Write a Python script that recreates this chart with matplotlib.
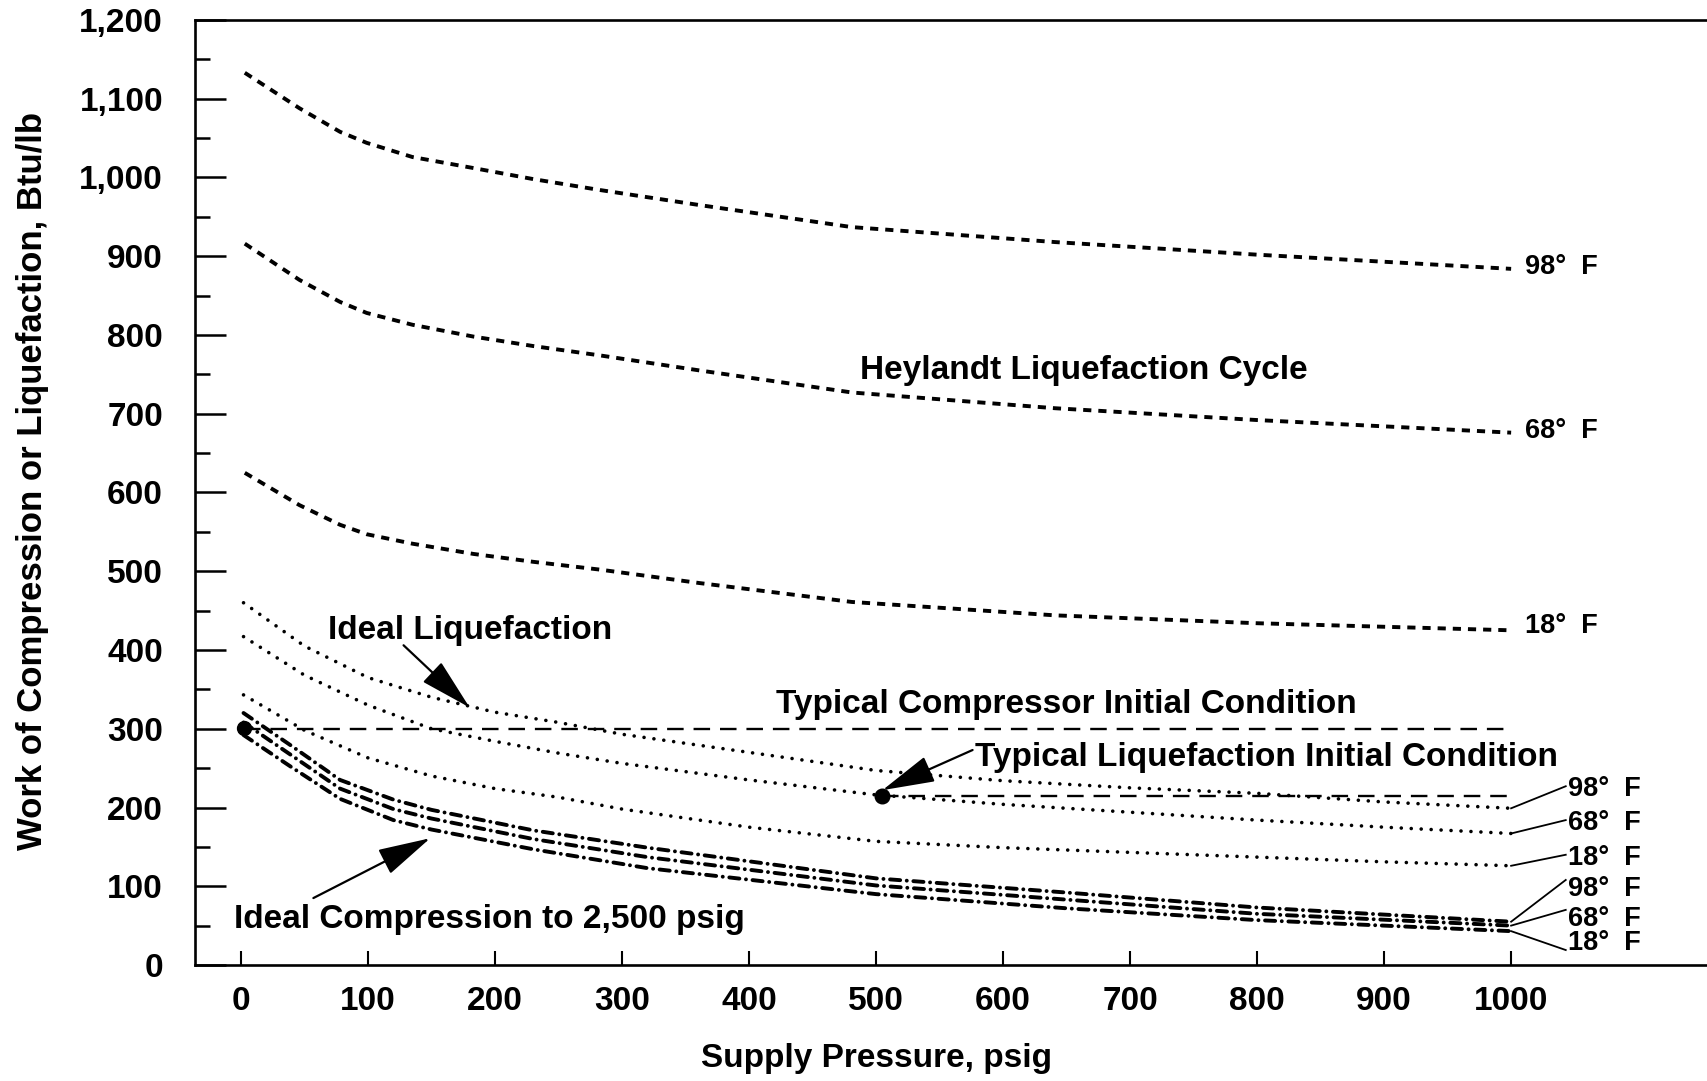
import matplotlib
matplotlib.use('Agg')
import matplotlib.pyplot as plt

# ---- data ----
# Heylandt liquefaction cycle (short dashes)
hey_psig = [3, 46, 78, 99, 135, 183, 230, 283, 361, 481, 641, 800, 1000]
hey_98 = [1133, 1088, 1058, 1044, 1026, 1012, 998, 984, 965, 937, 918, 902, 884]
hey_68 = [916, 870, 842, 828, 813, 798, 786, 774, 755, 727, 707, 692, 676]
hey_18 = [625, 584, 559, 547, 535, 522, 512, 502, 485, 461, 444, 434, 425]

# Ideal liquefaction (dotted)
liq_psig = [2, 50, 100, 150, 200, 250, 300, 400, 500, 600, 700, 800, 900, 1000]
liq_98 = [460, 405, 365, 340, 321, 308, 293, 270, 247, 234, 225, 218, 207, 199]
liq_68 = [417, 368, 330, 300, 284, 269, 256, 235, 216, 204, 194, 184, 175, 167]
liq_18 = [343, 298, 263, 240, 224, 213, 198, 175, 157, 149, 143, 137, 131, 126]

# Ideal compression to 2,500 psig (dash-dot)
comp_psig = [2, 40, 78, 120, 150, 230, 320, 500, 650, 800, 1000]
comp_98 = [320, 278, 235, 210, 197, 171, 149, 110, 92, 73, 55]
comp_68 = [308, 266, 224, 198, 186, 160, 137, 101, 83, 65, 50]
comp_18 = [292, 251, 211, 184, 172, 147, 123, 90, 72, 57, 43]

# typical initial conditions
compressor_x = [2, 1000]
compressor_y = 300
liquef_x = [505, 1000]
liquef_y = 215

temps = ['98', '68', '18']
hey_label_y = [877, 669, 421]        # baselines of right-hand labels
liq_label_y = [215, 171, 127]
comp_label_y = [88, 50, 19]
liq_leader_y = [227, 184, 140]       # where leader lines meet the labels
comp_leader_y = [108, 70, 19]

plt.rcParams['font.family'] = ['Liberation Sans', 'DejaVu Sans']
plt.rcParams['font.weight'] = 'bold'

W, H = 1708, 1081
fig = plt.figure(figsize=(W / 100, H / 100), dpi=100)
ax = fig.add_axes([195 / W, 1 - 965 / H, 1 - 195 / W, (965 - 20) / H])
ax.set_xlim(-36.2, 1155)
ax.set_ylim(0, 1200)

for s in ['left', 'top', 'bottom']:
    ax.spines[s].set_linewidth(1.9)
ax.spines['right'].set_visible(False)

ax.set_yticks(range(0, 1201, 100))
ax.set_yticklabels([f'{v:,}' for v in range(0, 1201, 100)])
ax.set_yticks(range(50, 1200, 100), minor=True)
ax.set_xticks(range(0, 1001, 100))
ax.tick_params(axis='y', which='major', direction='in', length=22, width=1.8,
               pad=23, labelsize=24)
ax.tick_params(axis='y', which='minor', direction='in', length=11, width=1.8)
ax.tick_params(axis='x', which='major', direction='in', length=10, width=1.5,
               pad=15, labelsize=24)

k = 'black'
# Heylandt curves
for y in (hey_98, hey_68, hey_18):
    ax.plot(hey_psig, y, color=k, lw=2.8, dashes=(2.1, 1.8))

# ideal liquefaction
for y in (liq_98, liq_68, liq_18):
    ax.plot(liq_psig, y, color=k, lw=2.6, dashes=(0.01, 2.75),
            dash_capstyle='round')

# ideal compression
for y in (comp_98, comp_68, comp_18):
    ax.plot(comp_psig, y, color=k, lw=2.8, dashes=(2.6, 1.7, 0.01, 1.7),
            dash_capstyle='round')

# typical initial conditions
ax.plot(compressor_x, [compressor_y] * 2, color=k, lw=1.7, dashes=(7.0, 4.2))
ax.plot(liquef_x, [liquef_y] * 2, color=k, lw=1.7, dashes=(7.0, 4.2))
ax.plot(compressor_x[0], compressor_y + 1, 'o', color=k, ms=10)
ax.plot(liquef_x[0], liquef_y, 'o', color=k, ms=10.5)

fs = 24
ax.text(487, 744, 'Heylandt Liquefaction Cycle', fontsize=fs, ha='left')
ax.text(68.5, 414, 'Ideal Liquefaction', fontsize=fs, ha='left')
ax.text(421, 320, 'Typical Compressor Initial Condition', fontsize=fs, ha='left')
ax.text(578, 253, 'Typical Liquefaction Initial Condition', fontsize=fs,
        ha='left', clip_on=False)
ax.text(-5.5, 47, 'Ideal Compression to 2,500 psig', fontsize=fs, ha='left')

arrow = dict(arrowstyle='-|>,head_length=3.3,head_width=0.85',
             mutation_scale=10, lw=1.6, color=k, shrinkA=0, shrinkB=0)
ax.annotate('', xy=(180, 327), xytext=(128, 406), arrowprops=arrow)
ax.annotate('', xy=(505, 222), xytext=(576, 273), arrowprops=arrow)
ax.annotate('', xy=(149, 161), xytext=(57, 85), arrowprops=arrow)

# temperature labels
tfs = 19.5
for t, y in zip(temps, hey_label_y):
    ax.text(1011, y, f'{t}\u00b0  F', fontsize=tfs, ha='left')
for i, t in enumerate(temps):
    liq_end = (liq_psig[-1], [liq_98, liq_68, liq_18][i][-1])
    comp_end = (comp_psig[-1], [comp_98, comp_68, comp_18][i][-1])
    ax.plot([liq_end[0], 1043], [liq_end[1], liq_leader_y[i]], color=k, lw=1.3)
    ax.plot([comp_end[0], 1043], [comp_end[1], comp_leader_y[i]], color=k, lw=1.3)
    ax.text(1045, liq_label_y[i], f'{t}\u00b0  F', fontsize=tfs, ha='left')
    ax.text(1045, comp_label_y[i], f'{t}\u00b0  F', fontsize=tfs, ha='left')

fig.text(33 / W, 1 - 481 / H, 'Work of Compression or Liquefaction, Btu/lb',
         rotation=90, ha='center', va='center', fontsize=25)
fig.text(877 / W, 1 - 1059 / H, 'Supply Pressure, psig', ha='center',
         va='center', fontsize=24)

fig.savefig('out.png', dpi=100, facecolor='white')
